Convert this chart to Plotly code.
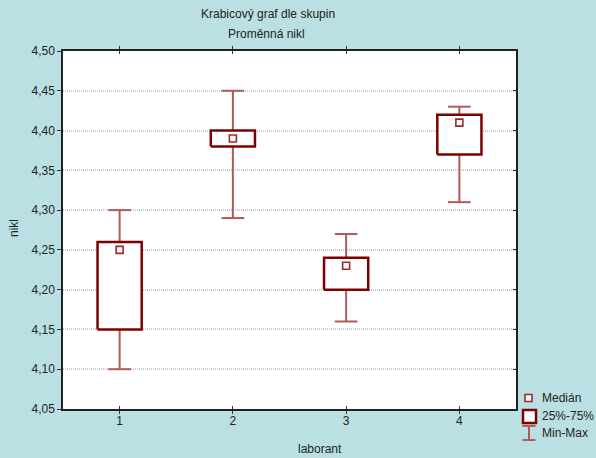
import plotly.graph_objects as go

laborant = [1, 2, 3, 4]
minimum = [4.10, 4.29, 4.16, 4.31]
q1 = [4.15, 4.38, 4.20, 4.37]
median = [4.25, 4.39, 4.23, 4.41]
q3 = [4.26, 4.40, 4.24, 4.42]
maximum = [4.30, 4.45, 4.27, 4.43]
y_ticks = [4.05, 4.10, 4.15, 4.20, 4.25, 4.30, 4.35, 4.40, 4.45, 4.50]
y_tick_text = [f"{v:.2f}".replace(".", ",") for v in y_ticks]

BOX = "#800000"
WHISK = "#b05a5a"
BG = "#bae0e3"
FONT = "Liberation Sans, Arial, sans-serif"
bw = 0.195   # half box width
cw = 0.1     # half cap width

W, H = 596, 458
L, R, T, B = 63, 80, 51, 49
PW, PH = W - L - R, H - T - B


def px(x):
    return (x - L) / PW


def py(y):
    return (H - B - y) / PH


fig = go.Figure()

# whiskers
wx, wy = [], []
for x, lo, a, b, hi in zip(laborant, minimum, q1, q3, maximum):
    wx += [x, x, None, x, x, None, x - cw, x + cw, None, x - cw, x + cw, None]
    wy += [hi, b, None, a, lo, None, hi, hi, None, lo, lo, None]
fig.add_trace(go.Scatter(x=wx, y=wy, mode="lines", line=dict(color=WHISK, width=2),
                         hoverinfo="skip", showlegend=False))

# boxes
for x, a, b in zip(laborant, q1, q3):
    fig.add_trace(go.Scatter(x=[x - bw, x + bw, x + bw, x - bw, x - bw], y=[a, a, b, b, a],
                             mode="lines", fill="toself", fillcolor="white",
                             line=dict(color=BOX, width=2.5), showlegend=False,
                             hoverinfo="skip"))

# medians
fig.add_trace(go.Scatter(x=laborant, y=median, mode="markers",
                         marker=dict(symbol="square", size=7, color="white",
                                     line=dict(color="#9a2a2a", width=1.6)),
                         showlegend=False))

# right axis inner ticks (mirror)
fig.add_trace(go.Scatter(x=[None], y=[None], yaxis="y2", showlegend=False))

axis_font = dict(family=FONT, size=12, color="#222")
fig.update_layout(
    width=W, height=H,
    margin=dict(l=L, r=R, t=T, b=B),
    paper_bgcolor=BG, plot_bgcolor="white",
    font=dict(family=FONT, size=12, color="#222"),
    xaxis=dict(range=[0.5, 4.5], tickvals=laborant, ticktext=[str(v) for v in laborant],
               ticks="inside", ticklen=3, tickcolor="#333", showgrid=False, zeroline=False,
               showline=True, linecolor="#222", linewidth=1.5, mirror="allticks",
               tickfont=axis_font),
    yaxis=dict(range=[4.05, 4.50], tickvals=y_ticks, ticktext=y_tick_text,
               ticks="outside", ticklen=4, tickcolor="#333", showgrid=True,
               gridcolor="#cccccc", griddash="1px,1px", gridwidth=1.5, zeroline=False,
               showline=True, linecolor="#222", linewidth=1.5, mirror=True,
               tickfont=axis_font),
    yaxis2=dict(range=[4.05, 4.50], tickvals=y_ticks, overlaying="y", side="right",
                ticks="inside", ticklen=3, tickcolor="#333", showticklabels=False,
                showgrid=False, zeroline=False),
    showlegend=False,
)

ann = [
    dict(text="Krabicový graf dle skupin", x=px(268), y=py(14)),
    dict(text="Proměnná nikl", x=px(266), y=py(34)),
    dict(text="laborant", x=px(320), y=py(449)),
    dict(text="nikl", x=px(14), y=py(228), textangle=-90),
    dict(text="Medián", x=px(540), y=py(398), xanchor="left"),
    dict(text="25%-75%", x=px(540), y=py(416), xanchor="left"),
    dict(text="Min-Max", x=px(540), y=py(433), xanchor="left"),
]
for a in ann:
    a.setdefault("xanchor", "center")
    fig.add_annotation(xref="paper", yref="paper", yanchor="middle", showarrow=False,
                       font=dict(family=FONT, size=12, color="#222"), **a)

shapes = [
    dict(type="rect", x0=px(525), x1=px(532), y0=py(394.5), y1=py(401.5),
         line=dict(color="#9a2a2a", width=1.6), fillcolor="white"),
    dict(type="rect", x0=px(523), x1=px(536), y0=py(410), y1=py(423),
         line=dict(color=BOX, width=2.5), fillcolor="white"),
    dict(type="line", x0=px(529), x1=px(529), y0=py(426), y1=py(440),
         line=dict(color=WHISK, width=2)),
    dict(type="line", x0=px(522.5), x1=px(535.5), y0=py(426), y1=py(426),
         line=dict(color=WHISK, width=2)),
    dict(type="line", x0=px(522.5), x1=px(535.5), y0=py(440), y1=py(440),
         line=dict(color=WHISK, width=2)),
]
for s in shapes:
    fig.add_shape(xref="paper", yref="paper", **s)

fig.write_html("out.html", config={"displayModeBar": False},
               post_script="document.body.style.margin='0';document.body.style.overflow='hidden';")
